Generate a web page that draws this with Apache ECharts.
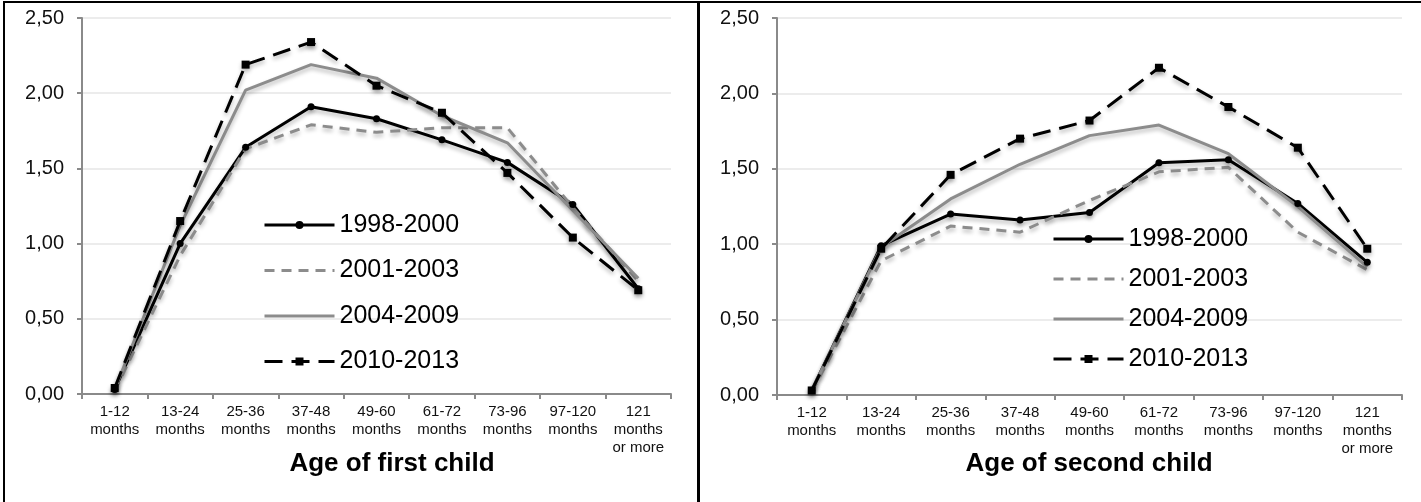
<!DOCTYPE html>
<html><head><meta charset="utf-8">
<script src="https://cdn.jsdelivr.net/npm/echarts@6/dist/echarts.min.js"></script>
<style>html,body{margin:0;padding:0;background:#fff;overflow:hidden}#c{width:1421px;height:502px}</style>
</head><body><div id="c"></div><script>
const categories = ['1-12\nmonths','13-24\nmonths','25-36\nmonths','37-48\nmonths','49-60\nmonths','61-72\nmonths','73-96\nmonths','97-120\nmonths','121\nmonths\nor more'];
const seriesNames = ['1998-2000','2001-2003','2004-2009','2010-2013'];
const yTicks = [0, 0.5, 1, 1.5, 2, 2.5];
const panelTitles = ['Age of first child','Age of second child'];

// Age of first child
const first1998_2000 = [0.03, 1.00, 1.64, 1.91, 1.83, 1.69, 1.54, 1.26, 0.70];
const first2001_2003 = [0.02, 0.92, 1.63, 1.79, 1.74, 1.77, 1.77, 1.24, 0.75];
const first2004_2009 = [0.03, 1.12, 2.02, 2.19, 2.10, 1.85, 1.67, 1.22, 0.77];
const first2010_2013 = [0.04, 1.15, 2.19, 2.34, 2.05, 1.87, 1.47, 1.04, 0.69];

// Age of second child
const second1998_2000 = [0.03, 0.99, 1.20, 1.16, 1.21, 1.54, 1.56, 1.27, 0.88];
const second2001_2003 = [0.02, 0.89, 1.12, 1.08, 1.29, 1.48, 1.51, 1.08, 0.83];
const second2004_2009 = [0.03, 0.98, 1.30, 1.53, 1.72, 1.79, 1.60, 1.25, 0.85];
const second2010_2013 = [0.03, 0.97, 1.46, 1.70, 1.82, 2.17, 1.91, 1.64, 0.97];

const FONT = "'Liberation Sans', Arial, sans-serif";
const shadow = {shadowColor:'rgba(0,0,0,0.28)', shadowBlur:4, shadowOffsetY:3};

const styles = [
  {color:'#000', type:'solid', symbol:'circle', size:7},
  {color:'#8c8c8c', type:[10,7], symbol:'none', size:0},
  {color:'#8c8c8c', type:'solid', symbol:'none', size:0},
  {color:'#000', type:[18,9], symbol:'rect', size:8}
];

function mk(name, data, idx, st){
  return {
    name, type:'line', data, xAxisIndex:idx, yAxisIndex:idx,
    symbol: st.symbol, symbolSize: st.size, showSymbol: st.symbol !== 'none',
    lineStyle: Object.assign({color:st.color, width:3, type:st.type}, shadow),
    itemStyle: Object.assign({color:st.color, borderWidth:0}, shadow),
    emphasis:{disabled:true}, animation:false
  };
}
const firstData = [first1998_2000, first2001_2003, first2004_2009, first2010_2013];
const secondData = [second1998_2000, second2001_2003, second2004_2009, second2010_2013];
const series = [];
seriesNames.forEach((n,i)=>series.push(mk(n, firstData[i], 0, styles[i])));
seriesNames.forEach((n,i)=>series.push(mk(n, secondData[i], 1, styles[i])));

function xAx(gi){
  return {
    type:'category', gridIndex:gi, data:categories, boundaryGap:true,
    axisLine:{lineStyle:{color:'#8a8a8a', width:2}},
    axisTick:{show:true, length:5, lineStyle:{color:'#8a8a8a', width:2}, alignWithLabel:false},
    axisLabel:{interval:0, fontSize:15, fontFamily:FONT, color:'#111', lineHeight:18, margin:9}
  };
}
function yAx(gi){
  return {
    type:'value', gridIndex:gi, min:yTicks[0], max:yTicks[yTicks.length-1], interval:0.5,
    axisLine:{show:true, lineStyle:{color:'#8a8a8a', width:2}},
    axisTick:{show:true, length:5, lineStyle:{color:'#8a8a8a', width:2}},
    splitLine:{lineStyle:{color:'#ececec', width:2}},
    axisLabel:{fontSize:20, fontFamily:FONT, color:'#111', margin:18,
      formatter:v=>v.toFixed(2).replace('.',',')}
  };
}
function leg(left, top, gap){
  return {
    data: seriesNames.map((n,i)=> styles[i].symbol === 'none'
      ? {name:n, itemStyle:{opacity:0, color:'rgba(0,0,0,0)', borderWidth:0}}
      : {name:n}),
    orient:'vertical', left, top, padding:0, itemWidth:70, itemHeight:10, itemGap:gap,
    lineStyle:{width:3},
    textStyle:{fontSize:25, fontFamily:FONT, color:'#000', lineHeight:26},
    selectedMode:false
  };
}

const option = {
  backgroundColor:'#fff',
  animation:false,
  grid:[
    {left:82, top:18, width:589, height:376},
    {left:777, top:18, width:625, height:377}
  ],
  xAxis:[xAx(0), xAx(1)],
  yAxis:[yAx(0), yAx(1)],
  legend:[leg(263, 212, 19.5), leg(1052, 226, 14)],
  series,
  graphic:[
    {type:'rect', shape:{x:4, y:2, width:694, height:520}, style:{fill:'none', stroke:'#000', lineWidth:2}, silent:true},
    {type:'rect', shape:{x:699, y:2, width:730, height:520}, style:{fill:'none', stroke:'#000', lineWidth:2}, silent:true},
    {type:'text', x:392, y:464, style:{text:panelTitles[0], font:'bold 26px '+FONT, fill:'#000', align:'center', verticalAlign:'middle'}},
    {type:'text', x:1089, y:464, style:{text:panelTitles[1], font:'bold 26px '+FONT, fill:'#000', align:'center', verticalAlign:'middle'}}
  ]
};
const chart = echarts.init(document.getElementById('c'), null, {renderer:'canvas'});
chart.setOption(option);
</script></body></html>
